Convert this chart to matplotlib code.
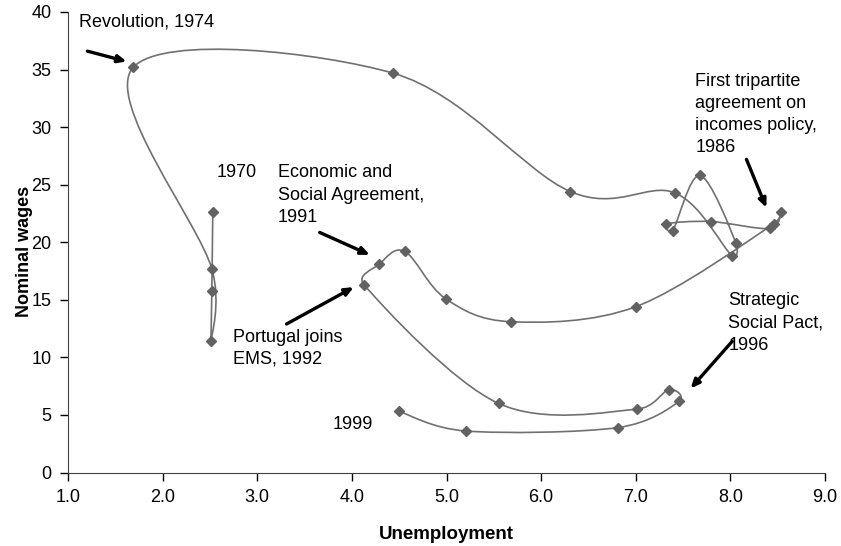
import numpy as np
import matplotlib
matplotlib.use('Agg')
import matplotlib.pyplot as plt
from matplotlib.path import Path
from matplotlib.patches import PathPatch

plt.rcParams['font.family'] = ['Liberation Sans', 'DejaVu Sans']

# Portugal, 1970-1999: unemployment (%) vs nominal wage growth (%)
years = list(range(1970, 2000))
unemployment = [2.53, 2.52, 2.51, 2.52, 1.69, 4.43, 6.31, 7.41, 8.02, 8.06,
                7.68, 7.39, 7.32, 7.79, 8.42, 8.54, 8.46, 7.00, 5.68, 4.99,
                4.56, 4.29, 4.13, 5.55, 7.01, 7.35, 7.46, 6.81, 5.21, 4.50]
wages = [22.6, 15.8, 11.4, 17.7, 35.2, 34.7, 24.4, 24.3, 18.8, 19.9,
         25.8, 21.0, 21.6, 21.8, 21.2, 22.6, 21.6, 14.4, 13.1, 15.1,
         19.2, 18.1, 16.3, 6.0, 5.5, 7.2, 6.2, 3.9, 3.6, 5.3]

x_ticks = [1, 2, 3, 4, 5, 6, 7, 8, 9]
y_ticks = [0, 5, 10, 15, 20, 25, 30, 35, 40]

# annotations: text, text position, arrow (tail, tip) or None
notes = [
    ("Revolution, 1974", (1.116, 39.1), ((1.205, 36.6), (1.62, 35.7))),
    ("1970", (2.57, 26.1), None),
    ("Economic and\nSocial Agreement,\n1991", (3.22, 24.1), ((3.66, 20.85), (4.19, 18.9))),
    ("Portugal joins\nEMS, 1992", (2.74, 10.8), ((3.31, 12.9), (4.02, 16.1))),
    ("1999", (3.80, 4.2), None),
    ("Strategic\nSocial Pact,\n1996", (7.98, 13.0), ((8.02, 11.4), (7.58, 7.3))),
    ("First tripartite\nagreement on\nincomes policy,\n1986", (7.63, 31.1), ((8.17, 27.2), (8.38, 23.0))),
]


def smooth_path(ax, xs, ys, k=1 / 6):
    # excel style smoothed line: bezier segments, control points worked out
    # in screen space and capped at half the segment length
    pts = ax.transData.transform(np.column_stack([xs, ys]))
    n = len(pts)
    verts = [pts[0]]
    codes = [Path.MOVETO]
    for i in range(n - 1):
        p0 = pts[max(i - 1, 0)]
        p1 = pts[i]
        p2 = pts[i + 1]
        p3 = pts[min(i + 2, n - 1)]
        seg = np.hypot(*(p2 - p1))
        t1 = (p2 - p0) * k
        t2 = (p3 - p1) * k
        for t in (t1, t2):
            ln = np.hypot(*t)
            if ln > seg / 2 and ln > 0:
                t *= (seg / 2) / ln
        verts += [p1 + t1, p2 - t2, p2]
        codes += [Path.CURVE4] * 3
    verts = ax.transData.inverted().transform(np.array(verts))
    return Path(verts, codes)


fig = plt.figure(figsize=(8.41, 5.46), dpi=100)
ax = fig.add_axes([68 / 841, 1 - 472.5 / 546, (825 - 68) / 841, (472.5 - 12) / 546])
ax.set_xlim(1, 9)
ax.set_ylim(0, 40)

ax.add_patch(PathPatch(smooth_path(ax, unemployment, wages), facecolor='none',
                       edgecolor='#707070', lw=1.2, zorder=2))
ax.plot(unemployment, wages, ls='none', marker='D', ms=5.6, color='#626262',
        mec='#626262', zorder=3)

for txt, pos, arr in notes:
    ax.text(pos[0], pos[1], txt, fontsize=13, ha='left', va='center',
            color='black', linespacing=1.4)
    if arr is not None:
        ax.annotate('', xy=arr[1], xytext=arr[0],
                    arrowprops=dict(arrowstyle='-|>,head_length=0.5,head_width=0.22',
                                    lw=2.4, color='black', shrinkA=0, shrinkB=0))

ax.set_xticks(x_ticks)
ax.set_xticklabels([f"{v:.1f}" for v in x_ticks])
ax.set_yticks(y_ticks)
ax.tick_params(direction='out', length=6, width=1, labelsize=13, pad=6)
for s in ['top', 'right']:
    ax.spines[s].set_visible(False)
for s in ['left', 'bottom']:
    ax.spines[s].set_color('#404040')

ax.set_xlabel('Unemployment', fontsize=13.5, fontweight='bold', labelpad=14)
ax.set_ylabel('Nominal wages', fontsize=13, fontweight='bold')
ax.yaxis.set_label_coords(-0.046, 0.48)

fig.savefig('out.png', dpi=100)
